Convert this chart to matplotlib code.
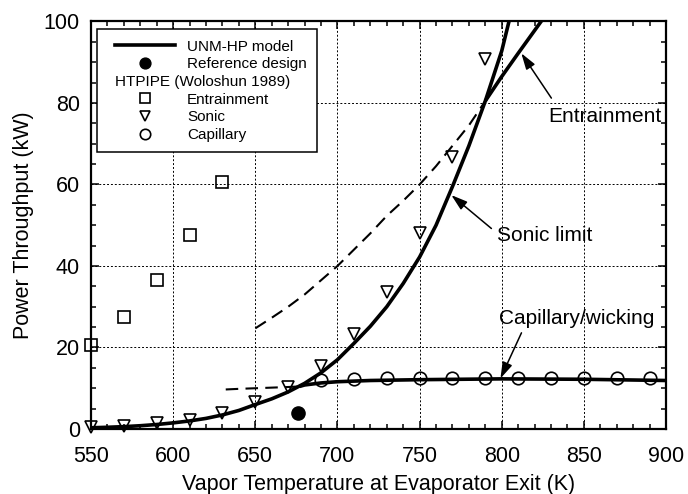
"""Heat pipe operating limits: UNM-HP model curves against HTPIPE results."""

import matplotlib
matplotlib.use("Agg")
import matplotlib.pyplot as plt
from matplotlib.legend_handler import HandlerLine2D
from matplotlib.lines import Line2D

plt.rcParams["font.family"] = ["Liberation Sans", "DejaVu Sans"]

# UNM-HP model, sonic limit (K, kW)
sonic_T = [550, 560, 570, 580, 590, 600, 610, 620, 630, 640, 650, 660, 670,
           680, 690, 700, 710, 720, 730, 740, 750, 760, 770, 780, 790, 800, 805]
sonic_P = [0.3, 0.42, 0.58, 0.8, 1.1, 1.5, 1.98, 2.6, 3.45, 4.55, 6.0, 7.4,
           9.1, 11.2, 13.8, 17.0, 21.0, 25.2, 30.0, 35.7, 42.2, 50.0, 59.5,
           69.5, 80.5, 92.8, 101.0]

# UNM-HP model, entrainment limit: dashed below the sonic limit, solid above
entrain_dash_T = [650, 660, 670, 680, 690, 700, 710, 720, 730, 740, 750, 760,
                  770, 780, 790]
entrain_dash_P = [24.7, 27.3, 30.0, 33.0, 36.5, 40.0, 44.0, 48.0, 52.3, 56.0,
                  60.0, 64.5, 69.5, 74.5, 80.5]
entrain_T = [790, 800, 810, 820, 825]
entrain_P = [80.5, 86.5, 92.2, 97.8, 100.6]

# UNM-HP model, capillary/wicking limit
cap_dash_T = [632, 640, 650, 660, 670, 677]
cap_dash_P = [9.7, 9.85, 10.0, 10.15, 10.3, 10.45]
cap_T = [677, 680, 690, 700, 720, 750, 800, 850, 900]
cap_P = [10.45, 10.8, 11.3, 11.6, 11.9, 12.1, 12.3, 12.2, 11.9]

# HTPIPE (Woloshun 1989)
htp_entrain_T = [550, 570, 590, 610, 630]
htp_entrain_P = [20.5, 27.6, 36.5, 47.6, 60.6]
htp_sonic_T = [550, 570, 590, 610, 630, 650, 670, 690, 710, 730, 750, 770, 790]
htp_sonic_P = [0.6, 0.8, 1.4, 2.2, 3.9, 6.7, 10.3, 15.5, 23.3, 33.6, 48.1,
               66.7, 90.8]
htp_cap_T = [690, 710, 730, 750, 770, 790, 810, 830, 850, 870, 890]
htp_cap_P = [11.9, 12.2, 12.4, 12.5, 12.5, 12.5, 12.5, 12.5, 12.5, 12.5, 12.5]

# reference design point
ref_T = [676]
ref_P = [3.9]

fig = plt.figure(figsize=(6.88, 4.94), dpi=100)
ax = fig.add_axes([0.1323, 0.1316, 0.8358, 0.8249])

solid = dict(color="k", lw=2.6, solid_capstyle="butt")
dashed = dict(color="k", lw=1.5, ls=(0, (6, 3.5)))

ax.plot(sonic_T, sonic_P, **solid)
ax.plot(entrain_dash_T, entrain_dash_P, **dashed)
ax.plot(entrain_T, entrain_P, **solid)
ax.plot(cap_dash_T, cap_dash_P, **dashed)
ax.plot(cap_T, cap_P, **solid)

mk = dict(ls="none", mfc="none", mec="k", mew=1.2, ms=9, clip_on=False,
          zorder=4)
ax.plot(htp_entrain_T, htp_entrain_P, marker="s", **mk)
ax.plot(htp_sonic_T, htp_sonic_P, marker="v", **mk)
ax.plot(htp_cap_T, htp_cap_P, marker="o", **mk)
ax.plot(ref_T, ref_P, ls="none", marker="o", color="k", ms=9.5, zorder=4)

ax.set_xlim(550, 900)
ax.set_ylim(0, 100)
ax.set_xticks(range(550, 901, 50))
ax.set_xticks(range(550, 901, 10), minor=True)
ax.set_yticks(range(0, 101, 20))
ax.set_yticks(range(0, 101, 5), minor=True)
ax.tick_params(which="both", direction="in", top=True, right=True,
               labelsize=15.5, width=1.1)
ax.tick_params(which="major", length=6)
ax.tick_params(axis="x", which="major", pad=12)
ax.tick_params(axis="y", which="major", pad=8)
ax.tick_params(which="minor", length=3.5)
for sp in ax.spines.values():
    sp.set_linewidth(1.6)
ax.set_axisbelow(True)
ax.grid(True, which="major", color="k", lw=0.7, ls=(0, (2, 2)))

ax.set_xlabel("Vapor Temperature at Evaporator Exit (K)", fontsize=15.5,
              labelpad=5)
ax.set_ylabel("Power Throughput (kW)", fontsize=15.5, labelpad=7)

# labelled arrows pointing at each model curve
arrow = dict(arrowstyle="-|>,head_length=0.7,head_width=0.22", color="k",
             lw=1.1, shrinkA=0, shrinkB=0, mutation_scale=14)
ax.annotate("", xy=(811.9, 92.2), xytext=(830.2, 81.2), arrowprops=arrow)
ax.text(828.2, 75.4, "Entrainment", fontsize=15, va="baseline")
ax.annotate("", xy=(769.3, 57.4), xytext=(793.7, 49.2), arrowprops=arrow)
ax.text(797.2, 46.2, "Sonic limit", fontsize=15, va="baseline")
ax.annotate("", xy=(799.2, 12.4), xytext=(812.0, 23.6), arrowprops=arrow)
ax.text(798.3, 25.8, "Capillary/wicking", fontsize=15, va="baseline")

# legend; the HTPIPE header row gets its text drawn separately below
leg_mk = dict(ls="none", mfc="none", mec="k", mew=1.2, ms=7.5)
handles = [
    Line2D([], [], color="k", lw=2.6),
    Line2D([], [], ls="none", marker="o", color="k", ms=7.8),
    Line2D([], [], ls="none"),
    Line2D([], [], marker="s", **leg_mk),
    Line2D([], [], marker="v", **leg_mk),
    Line2D([], [], marker="o", **leg_mk),
]
labels = ["UNM-HP model", "Reference design", " ", "Entrainment", "Sonic",
          "Capillary"]
leg_fs = 11
xpad = 0.48
leg = ax.legend(handles, labels, loc="upper left",
                bbox_to_anchor=(0.011, 0.981), borderaxespad=0,
                fontsize=leg_fs, fancybox=False, framealpha=1,
                edgecolor="k", handlelength=4.4, handletextpad=0.78,
                borderpad=0.68, labelspacing=0.24,
                handler_map={Line2D: HandlerLine2D(xpad=xpad)})
leg.get_frame().set_linewidth(1.1)
leg.set_zorder(5)

fig.canvas.draw()
renderer = fig.canvas.get_renderer()
fs_px = leg_fs * fig.dpi / 72
frame_box = leg.get_frame().get_window_extent(renderer)
row_box = leg.get_texts()[2].get_window_extent(renderer)
hx = frame_box.x0 + (0.68 + xpad) * fs_px
hy = 0.5 * (row_box.y0 + row_box.y1)
fig.text(hx / fig.bbox.width, hy / fig.bbox.height,
         "HTPIPE (Woloshun 1989)", fontsize=leg_fs, va="center", ha="left",
         zorder=6)

fig.savefig("out.png", dpi=100)
